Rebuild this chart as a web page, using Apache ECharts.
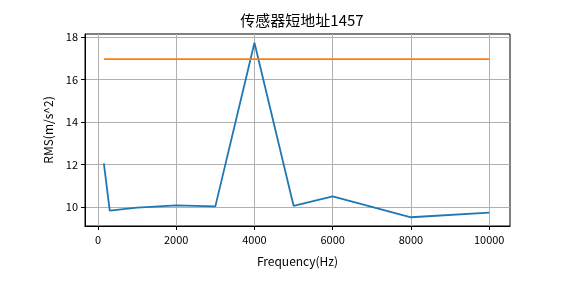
<!DOCTYPE html>
<html><head><meta charset="utf-8">
<script src="https://cdn.jsdelivr.net/npm/echarts@6/dist/echarts.min.js"></script>
<style>html,body{margin:0;padding:0;background:#fff}#c{width:565px;height:283px}</style>
</head><body><div id="c"></div>
<script>
const freq = [150, 300, 1000, 2000, 3000, 4000, 5000, 6000, 8000, 10000];
const rms = [12.06, 9.84, 9.98, 10.09, 10.04, 17.72, 10.07, 10.51, 9.53, 9.75];
const limitVal = [16.95, 16.95, 16.95, 16.95, 16.95, 16.95, 16.95, 16.95, 16.95, 16.95];
const xTicks = [0, 2000, 4000, 6000, 8000, 10000];
const yTicks = [10, 12, 14, 16, 18];
const FONT = '"Noto Sans CJK SC", "DejaVu Sans", sans-serif';
const chart = echarts.init(document.getElementById('c'), null, {renderer: 'canvas'});
chart.setOption({
  animation: false,
  title: {text: '传感器短地址1457', left: 297, top: 8, textAlign: 'center',
    textStyle: {fontFamily: FONT, fontSize: 15, fontWeight: 'normal', color: '#000'}},
  grid: {left: 85, right: 55, top: 34, bottom: 57, show: true, borderColor: '#000', borderWidth: 1, backgroundColor: 'transparent'},
  xAxis: {
    type: 'value', min: -332, max: 10532,
    name: 'Frequency(Hz)', nameLocation: 'middle', nameGap: 29,
    nameTextStyle: {fontFamily: FONT, fontSize: 12, color: '#000'},
    axisLine: {show: true, onZero: false, lineStyle: {color: '#000'}},
    axisTick: {show: true, length: 4, customValues: xTicks, lineStyle: {color: '#000'}},
    axisLabel: {customValues: xTicks, formatter: v => String(v), fontFamily: FONT, fontSize: 11, color: '#000', margin: 8},
    splitLine: {show: true, lineStyle: {color: '#b0b0b0', width: 1}}
  },
  yAxis: {
    type: 'value', min: 9.12, max: 18.13,
    name: 'RMS(m/s^2)', nameLocation: 'middle', nameGap: 30, nameRotate: 90,
    nameTextStyle: {fontFamily: FONT, fontSize: 12, color: '#000'},
    axisLine: {show: true, onZero: false, lineStyle: {color: '#000'}},
    axisTick: {show: true, length: 4, customValues: yTicks, lineStyle: {color: '#000'}},
    axisLabel: {customValues: yTicks, formatter: v => String(v), fontFamily: FONT, fontSize: 11, color: '#000', margin: 7},
    splitLine: {show: true, lineStyle: {color: '#b0b0b0', width: 1}}
  },
  series: [
    {type: 'line', data: freq.map((f, i) => [f, rms[i]]), symbol: 'none',
      lineStyle: {color: '#1f77b4', width: 1.8}, itemStyle: {color: '#1f77b4'}},
    {type: 'line', data: freq.map((f, i) => [f, limitVal[i]]), symbol: 'none',
      lineStyle: {color: '#ff7f0e', width: 1.8}, itemStyle: {color: '#ff7f0e'}}
  ]
});
</script></body></html>
